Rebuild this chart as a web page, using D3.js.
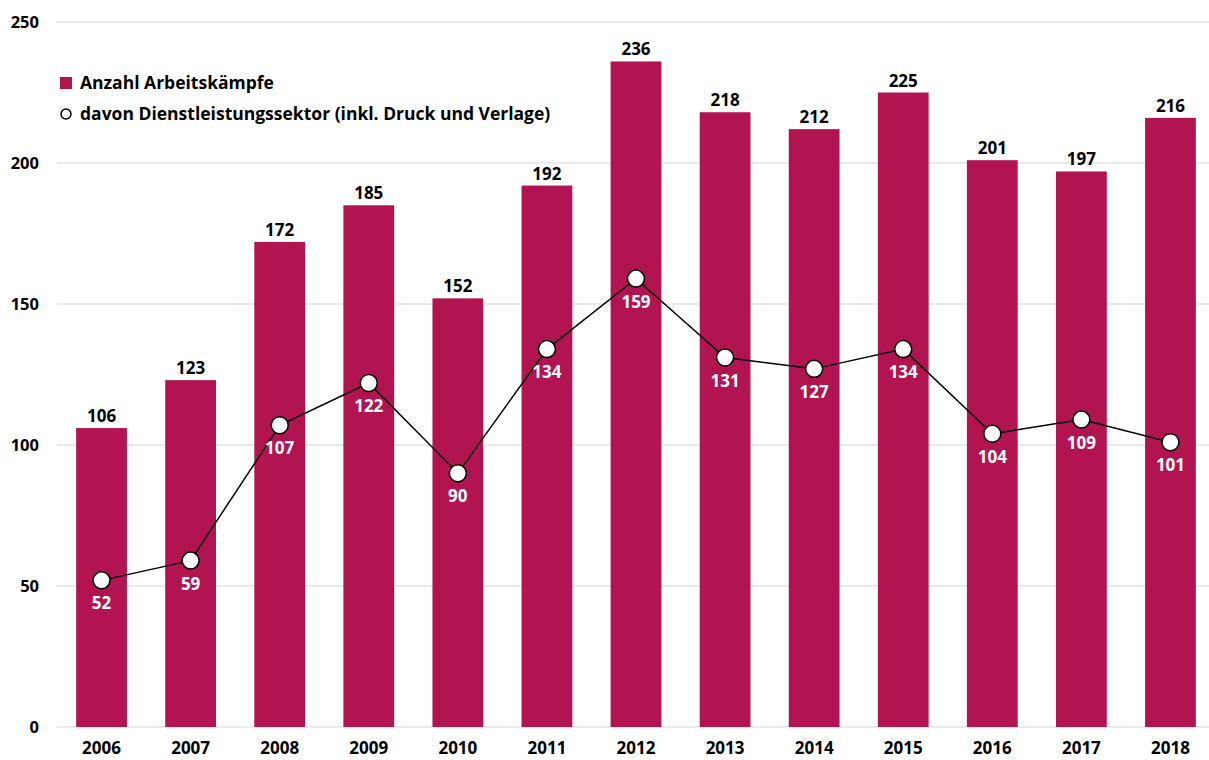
<!DOCTYPE html>
<html>
<head>
<meta charset="utf-8">
<script src="https://cdn.jsdelivr.net/npm/d3@7"></script>
<style>
  body { margin: 0; background: #fff; }
  text { font-family: "Open Sans", "Noto Sans", sans-serif; font-weight: bold; }
</style>
</head>
<body>
<div id="chart"></div>
<script>
// datos
const years = ["2006", "2007", "2008", "2009", "2010", "2011", "2012", "2013", "2014", "2015", "2016", "2017", "2018"];
const arbeitskaempfe = [106, 123, 172, 185, 152, 192, 236, 218, 212, 225, 201, 197, 216];
const dienstleistung = [52, 59, 107, 122, 90, 134, 159, 131, 127, 134, 104, 109, 101];
const yTicks = [0, 50, 100, 150, 200, 250];

const width = 1209, height = 760;
const barColor = "#b11450";

const svg = d3.select("#chart").append("svg")
    .attr("width", width)
    .attr("height", height);

const x = d3.scaleBand()
    .domain(years)
    .range([57, 1215])
    .paddingInner(0.43)
    .paddingOuter(0.215);

const y = d3.scaleLinear()
    .domain([0, 250])
    .range([727, 22]);

// lineas de cuadricula
svg.append("g")
    .selectAll("line")
    .data(yTicks)
    .join("line")
    .attr("x1", 57)
    .attr("x2", 1209)
    .attr("y1", d => y(d))
    .attr("y2", d => y(d))
    .attr("stroke", "#e3e3e3")
    .attr("stroke-width", 1.5);

// eje y
const yAxis = svg.append("g")
    .attr("transform", "translate(39,0)")
    .call(d3.axisLeft(y).tickValues(yTicks).tickSize(0).tickPadding(0));
yAxis.select(".domain").remove();
yAxis.selectAll("text")
    .style("font-size", "16.5px")
    .style("font-family", "'Open Sans', sans-serif")
    .style("font-weight", "bold")
    .attr("fill", "#000");

// eje x
const xAxis = svg.append("g")
    .attr("transform", "translate(0,737)")
    .call(d3.axisBottom(x).tickSize(0).tickPadding(0));
xAxis.select(".domain").remove();
xAxis.selectAll("text")
    .attr("dy", "1em")
    .style("font-size", "17px")
    .style("font-family", "'Open Sans', sans-serif")
    .style("font-weight", "bold")
    .attr("fill", "#000");

// barras
svg.append("g")
    .selectAll("rect")
    .data(arbeitskaempfe)
    .join("rect")
    .attr("x", (d, i) => x(years[i]))
    .attr("y", d => y(d))
    .attr("width", x.bandwidth())
    .attr("height", d => y(0) - y(d))
    .attr("fill", barColor);

// etiquetas de barras
svg.append("g")
    .selectAll("text")
    .data(arbeitskaempfe)
    .join("text")
    .attr("x", (d, i) => x(years[i]) + x.bandwidth() / 2)
    .attr("y", d => y(d) - 6)
    .attr("text-anchor", "middle")
    .style("font-size", "17px")
    .text(d => d);

// linea
const line = d3.line()
    .x((d, i) => x(years[i]) + x.bandwidth() / 2)
    .y(d => y(d));

svg.append("path")
    .datum(dienstleistung)
    .attr("fill", "none")
    .attr("stroke", "#000")
    .attr("stroke-width", 1.5)
    .attr("d", line);

svg.append("g")
    .selectAll("circle")
    .data(dienstleistung)
    .join("circle")
    .attr("cx", (d, i) => x(years[i]) + x.bandwidth() / 2)
    .attr("cy", d => y(d))
    .attr("r", 8.5)
    .attr("fill", "#fff")
    .attr("stroke", "#000")
    .attr("stroke-width", 1.5);

svg.append("g")
    .selectAll("text")
    .data(dienstleistung)
    .join("text")
    .attr("x", (d, i) => x(years[i]) + x.bandwidth() / 2)
    .attr("y", d => y(d) + 29)
    .attr("text-anchor", "middle")
    .attr("fill", "#fff")
    .style("font-size", "17px")
    .text(d => d);

// leyenda
const legend = svg.append("g");
legend.append("rect")
    .attr("x", 60).attr("y", 77)
    .attr("width", 12).attr("height", 12)
    .attr("fill", barColor);
legend.append("text")
    .attr("x", 80).attr("y", 89)
    .style("font-size", "17.5px")
    .text("Anzahl Arbeitskämpfe");
legend.append("circle")
    .attr("cx", 66).attr("cy", 114)
    .attr("r", 5)
    .attr("fill", "#fff")
    .attr("stroke", "#000")
    .attr("stroke-width", 1.5);
legend.append("text")
    .attr("x", 80).attr("y", 120)
    .style("font-size", "17.5px")
    .text("davon Dienstleistungssektor (inkl. Druck und Verlage)");
</script>
</body>
</html>
